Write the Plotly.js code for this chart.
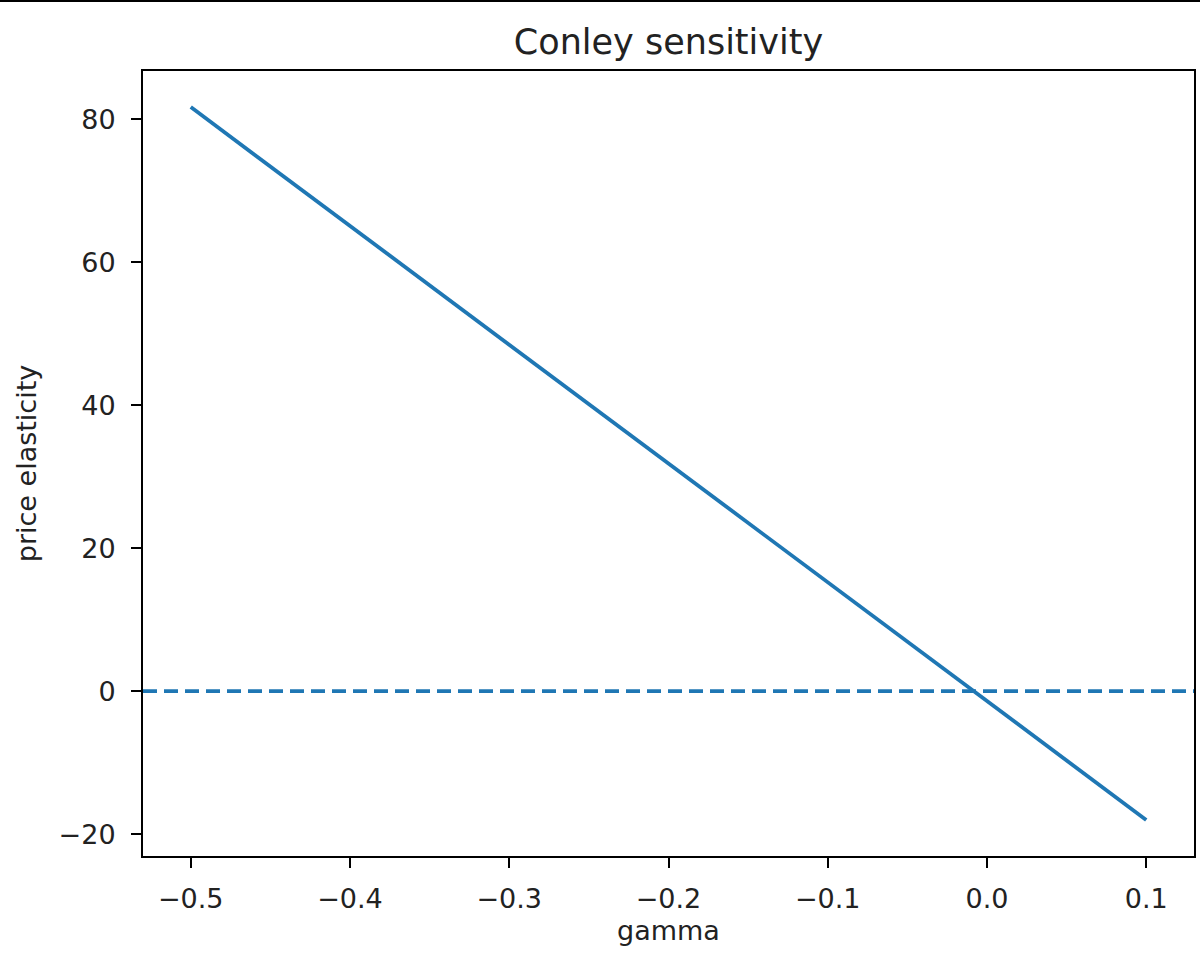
<!DOCTYPE html>
<html>
<head>
<meta charset="utf-8">
<script src="https://cdn.plot.ly/plotly-3.0.1.min.js"></script>
<style>
  html, body { margin: 0; padding: 0; background: #fff; }
  #wrap { position: relative; width: 1200px; height: 955px; }
  #topline { position: absolute; top: 0; left: 0; width: 1200px; height: 2px; background: #000; z-index: 5; }
  #chart { width: 1200px; height: 955px; }
</style>
</head>
<body>
<div id="wrap">
  <div id="topline"></div>
  <div id="chart"></div>
</div>
<script>
/* values */
const gamma = [-0.5, -0.4, -0.3, -0.2, -0.1, 0.0, 0.1];
const elasticity = [81.7, 65.1, 48.5, 31.8, 15.2, -1.4, -18.0];
const baseline = 0;

const xTicks = [-0.5, -0.4, -0.3, -0.2, -0.1, 0.0, 0.1];
const xTickText = ['\u22120.5', '\u22120.4', '\u22120.3', '\u22120.2', '\u22120.1', '0.0', '0.1'];
const yTicks = [-20, 0, 20, 40, 60, 80];
const yTickText = ['\u221220', '0', '20', '40', '60', '80'];

const blue = '#1f77b4';
const font = 'DejaVu Sans, sans-serif';

const axisCommon = {
  showgrid: false,
  zeroline: false,
  showline: true,
  mirror: true,
  linecolor: '#000',
  linewidth: 2,
  ticks: 'outside',
  ticklen: 10,
  tickwidth: 2,
  tickcolor: '#000',
  tickfont: { family: font, size: 27, color: '#222' },
};

const traces = [{
  x: gamma,
  y: elasticity,
  mode: 'lines',
  type: 'scatter',
  line: { color: blue, width: 3.8 },
  hoverinfo: 'skip',
}];

const layout = {
  width: 1200,
  height: 955,
  margin: { l: 143, r: 6, t: 71, b: 99 },
  paper_bgcolor: '#fff',
  plot_bgcolor: '#fff',
  showlegend: false,
  font: { family: font, color: '#222' },
  title: {
    text: 'Conley sensitivity',
    font: { family: font, size: 35, color: '#222' },
    x: 0.5,
    xref: 'paper',
    y: 1,
    yref: 'paper',
    yanchor: 'bottom',
    pad: { b: 17 },
  },
  xaxis: Object.assign({}, axisCommon, {
    range: [-0.53, 0.13],
    tickvals: xTicks,
    ticktext: xTickText,
    ticklabelstandoff: 8,
    title: { text: 'gamma', font: { family: font, size: 27, color: '#222' }, standoff: 8 },
  }),
  yaxis: Object.assign({}, axisCommon, {
    range: [-23.05, 86.75],
    tickvals: yTicks,
    ticktext: yTickText,
    ticklabelstandoff: 10,
    title: { text: 'price elasticity', font: { family: font, size: 27, color: '#222' }, standoff: 14 },
  }),
  shapes: [{
    type: 'line',
    xref: 'paper',
    x0: 0,
    x1: 1,
    yref: 'y',
    y0: baseline,
    y1: baseline,
    line: { color: blue, width: 3.8, dash: '14px,7px' },
  }],
};

Plotly.newPlot('chart', traces, layout, { displayModeBar: false, staticPlot: true });
</script>
</body>
</html>
